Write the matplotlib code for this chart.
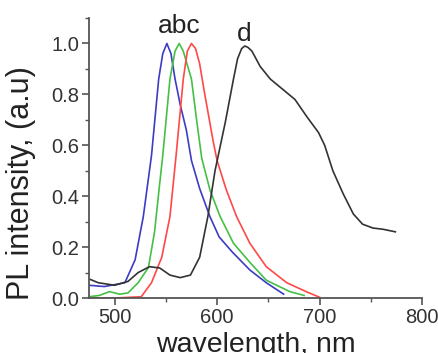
import matplotlib
matplotlib.use("Agg")
import matplotlib.pyplot as plt
from matplotlib.ticker import MultipleLocator

plt.rcParams['font.family'] = ['Liberation Sans', 'DejaVu Sans']

# Curve a (blue)
wl_a = [475, 490, 510, 520, 528, 536, 543, 547, 551, 555, 559, 564, 570, 575, 583, 593, 602, 615, 632, 648, 665]
pl_a = [0.05, 0.045, 0.06, 0.15, 0.32, 0.56, 0.86, 0.96, 1.0, 0.96, 0.86, 0.76, 0.66, 0.54, 0.43, 0.32, 0.24, 0.18, 0.11, 0.06, 0.015]

# Curve b (green)
wl_b = [475, 485, 495, 505, 513, 523, 533, 539, 544, 547, 554, 559, 563, 567, 575, 580, 585, 593, 603, 616, 632, 648, 671, 685]
pl_b = [0.005, 0.01, 0.025, 0.015, 0.02, 0.06, 0.12, 0.26, 0.45, 0.56, 0.86, 0.97, 1.0, 0.97, 0.86, 0.7, 0.55, 0.425, 0.32, 0.215, 0.14, 0.07, 0.025, 0.01]

# Curve c (red)
wl_c = [475, 500, 526, 536, 546, 554, 560, 567, 571, 575, 579, 583, 588, 596, 600, 609, 619, 632, 648, 668, 687, 700]
pl_c = [0.0, 0.0, 0.005, 0.06, 0.16, 0.32, 0.56, 0.86, 0.97, 1.0, 0.98, 0.92, 0.8, 0.62, 0.54, 0.425, 0.32, 0.215, 0.123, 0.06, 0.025, 0.003]

# Curve d (black)
wl_d = [475, 484, 500, 513, 523, 534, 544, 554, 564, 574, 583, 591, 598, 608, 616, 620, 624, 627, 630, 634, 642, 652, 664, 676, 688, 699, 705, 713, 723, 733, 742, 752, 762, 774]
pl_d = [0.075, 0.06, 0.05, 0.065, 0.1, 0.123, 0.118, 0.09, 0.08, 0.09, 0.16, 0.32, 0.5, 0.69, 0.86, 0.94, 0.98, 0.99, 0.985, 0.97, 0.91, 0.86, 0.82, 0.78, 0.71, 0.65, 0.6, 0.5, 0.41, 0.33, 0.29, 0.275, 0.27, 0.26]

labels = ['abc', 'd']
label_pos = [(563, 1.043), (626, 1.008)]

x_ticks = [500, 600, 700, 800]
y_ticks = [0.0, 0.2, 0.4, 0.6, 0.8, 1.0]

fig = plt.figure(figsize=(4.38, 3.53), dpi=100)
ax = fig.add_axes([89/438, 55/353, 333/438, 280/353])

lw = 1.2
ax.plot(wl_a, pl_a, color='#3c3cc4', lw=lw)
ax.plot(wl_b, pl_b, color='#45c045', lw=lw)
ax.plot(wl_c, pl_c, color='#ff4848', lw=lw)
ax.plot(wl_d, pl_d, color='#333333', lw=lw)

for t, (x, y) in zip(labels, label_pos):
    ax.text(x, y, t, ha='center', va='baseline', fontsize=19, color='#222222')

ax.set_xlim(475, 800)
ax.set_ylim(0, 1.1)
ax.set_xticks(x_ticks)
ax.set_yticks(y_ticks)
ax.set_yticklabels([f"{v:.1f}" for v in y_ticks])
ax.xaxis.set_minor_locator(MultipleLocator(50))
ax.yaxis.set_minor_locator(MultipleLocator(0.1))

for s in ['top', 'right']:
    ax.spines[s].set_visible(False)
for s in ['left', 'bottom']:
    ax.spines[s].set_color('#555555')
    ax.spines[s].set_linewidth(1.3)

ax.tick_params(which='major', direction='out', length=5, width=1.2, color='#555555',
               labelsize=14.5, labelcolor='#333333', pad=2)
ax.tick_params(which='minor', direction='out', length=3, width=1.0, color='#555555')

ax.set_xlabel('wavelength, nm', fontsize=20.5, color='#222222', labelpad=0)
ax.set_ylabel('PL intensity, (a.u)', fontsize=22, color='#222222')
ax.xaxis.set_label_coords(0.5, -0.12, transform=ax.transAxes)
ax.yaxis.set_label_coords(-0.16, 0.41)
ax.xaxis.label.set_va('top')

fig.savefig('out.png', dpi=100)
